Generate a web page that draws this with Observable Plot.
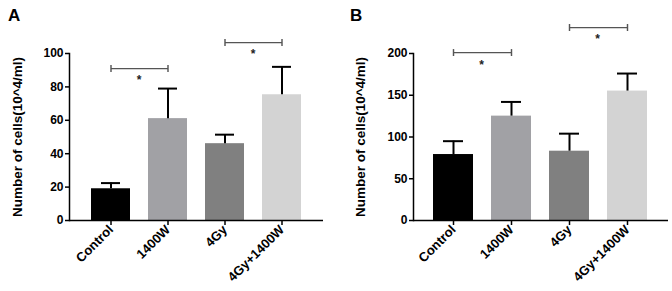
<!DOCTYPE html>
<html><head><meta charset="utf-8">
<script src="https://cdn.jsdelivr.net/npm/d3@7"></script>
<script src="https://cdn.jsdelivr.net/npm/@observablehq/plot@0.6"></script>
<style>
body{margin:0;background:#fff;font-family:"Liberation Sans",Arial,sans-serif}
#wrap{display:flex;width:672px;height:291px}
.panel{position:relative;width:336px;height:291px}
.lab{position:absolute;font-weight:bold;font-size:17px;color:#000;top:6px}
</style></head><body><div id="wrap"></div>
<script>
const categories = ["Control", "1400W", "4Gy", "4Gy+1400W"];
const barColors = ["#000000", "#a1a1a5", "#808080", "#d3d3d3"];
const yLabel = "Number of cells(10^4/ml)";

const meansA = [19, 61, 46, 75.3];
const errTopA = [22.4, 79, 51.4, 92];
const ticksA = [0, 20, 40, 60, 80, 100];
const sigFromA = ["Control", "4Gy"];
const sigToA = ["1400W", "4Gy+1400W"];
const sigLevelA = [91, 106.5];

const meansB = [79, 125, 83, 155];
const errTopB = [95, 142, 104, 176];
const ticksB = [0, 50, 100, 150, 200];
const sigFromB = ["Control", "4Gy"];
const sigToB = ["1400W", "4Gy+1400W"];
const sigLevelB = [201, 231];

function panel(letter, means, tops, ticks, domainMax, sigFrom, sigTo, sigLevel, ml, mr, labelDx) {
  const rows = categories.map((c, i) => ({cat: c, mean: means[i], top: tops[i]}));
  const sig = sigFrom.map((f, i) => ({from: f, to: sigTo[i], y: sigLevel[i]}));
  const chart = Plot.plot({
    width: 336, height: 291,
    marginLeft: ml, marginRight: mr, marginTop: 53, marginBottom: 71,
    style: {fontFamily: "'Liberation Sans', Arial, sans-serif", fontSize: "12px", fontWeight: "bold", color: "#000", background: "#fff"},
    x: {domain: categories, paddingInner: 0.31, paddingOuter: 0.35, label: null},
    y: {domain: [0, domainMax], ticks: ticks, label: null},
    color: {domain: categories, range: barColors},
    marks: [
      Plot.barY(rows, {x: "cat", y: "mean", fill: "cat"}),
      Plot.ruleX(rows, {x: "cat", y1: "mean", y2: "top", stroke: "#000", strokeWidth: 2}),
      Plot.tickY(rows, {x: "cat", y: "top", stroke: "#000", strokeWidth: 2, inset: 10}),
      Plot.link(sig, {x1: "from", x2: "to", y1: "y", y2: "y", stroke: "#555", strokeWidth: 1.2, markerStart: "tick", markerEnd: "tick"}),
      Plot.text(sig, {x: "from", y: "y", text: () => "*", dx: 28, dy: 12, fontSize: 12, fill: "#222"}),
      Plot.ruleY([0], {stroke: "#000", strokeWidth: 1.5}),
      Plot.frame({anchor: "left", stroke: "#000", strokeWidth: 1.5}),
      Plot.axisY({ticks: ticks, tickSize: 4, tickPadding: 2, strokeWidth: 1.5, fontSize: 12, fontWeight: "bold", label: null}),
      Plot.axisX({tickSize: 5, tickRotate: -45, tickPadding: 2, strokeWidth: 1.5, fontSize: 13, fontWeight: "bold", label: null}),
      Plot.text([yLabel], {frameAnchor: "left", rotate: -90, textAnchor: "middle", lineAnchor: "middle", dx: labelDx, fontSize: 13.5, fontWeight: "bold", fill: "#000"})
    ]
  });
  const div = document.createElement("div");
  div.className = "panel";
  const lab = document.createElement("div");
  lab.className = "lab";
  lab.textContent = letter;
  lab.style.left = letter === "A" ? "8px" : "14px";
  div.appendChild(chart);
  div.appendChild(lab);
  document.getElementById("wrap").appendChild(div);
}

panel("A", meansA, errTopA, ticksA, 100, sigFromA, sigToA, sigLevelA, 69, 13, -51.5);
panel("B", meansB, errTopB, ticksB, 200, sigFromB, sigToB, sigLevelB, 77, 4, -53);
</script></body></html>
